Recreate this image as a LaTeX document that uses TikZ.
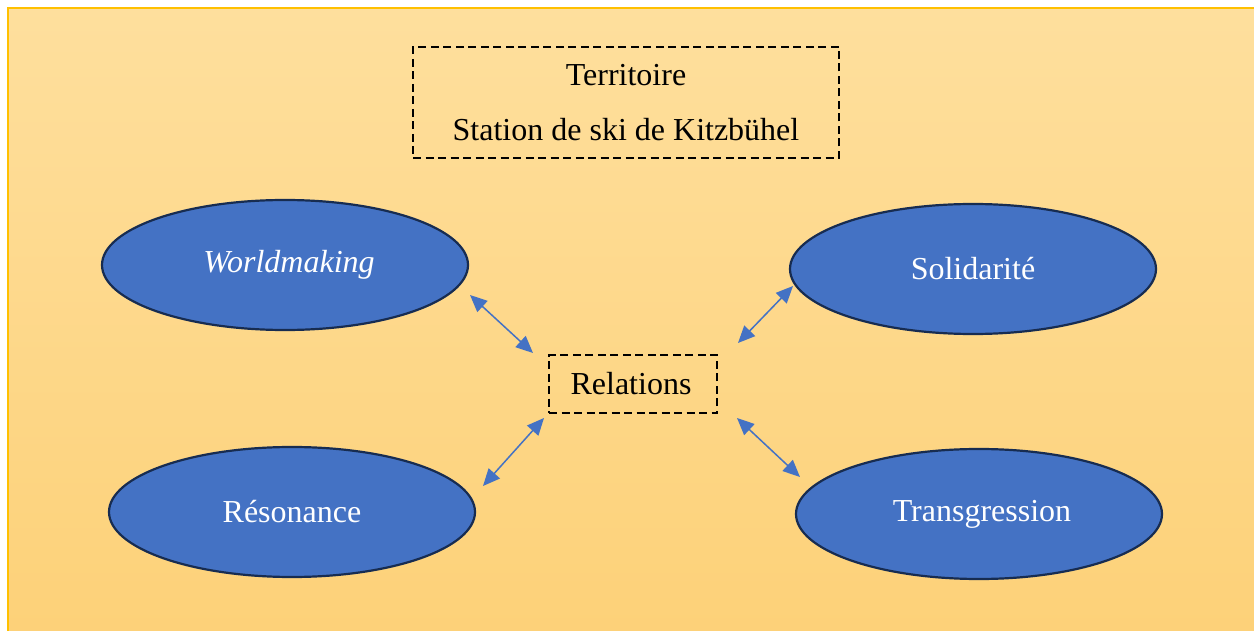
\documentclass[tikz,border=0pt]{standalone}
\usepackage{fontspec}
\setmainfont{Liberation Serif}
\usetikzlibrary{shapes.geometric,arrows.meta}
\definecolor{bgtop}{HTML}{FEDF9D}
\definecolor{bgbot}{HTML}{FDD178}
\definecolor{bgline}{HTML}{FFC000}
\definecolor{ellfill}{HTML}{4472C4}
\definecolor{elldraw}{HTML}{172C51}
\definecolor{arrowblue}{HTML}{4472C4}
\tikzset{
  bubble/.style={ellipse, draw=elldraw, line width=2.2pt, fill=ellfill, minimum width=366pt, minimum height=130pt, inner sep=0pt, text=white, font=\fontsize{32pt}{38pt}\selectfont},
  dashbox/.style={draw=black, line width=1.4pt, dash pattern=on 8pt off 4.5pt, inner sep=0pt, align=center, font=\fontsize{32pt}{55pt}\selectfont},
  link/.style={arrowblue, line width=1.5pt, {Triangle[length=17pt,width=15pt]}-{Triangle[length=17pt,width=15pt]}}
}
\begin{document}
\begin{tikzpicture}[x=1pt,y=-1pt]
\useasboundingbox (0,0) rectangle (1254,631);
\begin{scope}
\clip (0,0) rectangle (1254,631);
\shade[top color=bgtop, bottom color=bgbot] (7.5,8.5) rectangle (1260,640);
\draw[bgline, line width=2pt] (7.5,640) -- (7.5,8.5) -- (1260,8.5);
\end{scope}
% boxes
\node[dashbox, minimum width=426pt, minimum height=111pt] (terr) at (626,102.5) {Territoire\\Station de ski de Kitzbühel};
\node[dashbox, minimum width=168pt, minimum height=58pt] (rel) at (633,384) {\hspace*{-4pt}Relations};
% ellipses
\node[bubble] (wm) at (285,265) {\hspace*{8pt}\itshape Worldmaking};
\node[bubble] (sol) at (973,269) {Solidarité};
\node[bubble] (res) at (292,512) {Résonance};
\node[bubble] (tra) at (979,514) {\hspace*{6pt}Transgression};
% arrow ends
\coordinate (wmA) at (470,295);
\coordinate (wmB) at (533,353);
\coordinate (solA) at (793,286);
\coordinate (solB) at (738,343);
\coordinate (traA) at (800,477);
\coordinate (traB) at (737,418);
\coordinate (resA) at (483,486);
\coordinate (resB) at (544,418);
\draw[link] (wmA) -- (wmB);
\draw[link] (solA) -- (solB);
\draw[link] (traA) -- (traB);
\draw[link] (resA) -- (resB);
\end{tikzpicture}
\end{document}
